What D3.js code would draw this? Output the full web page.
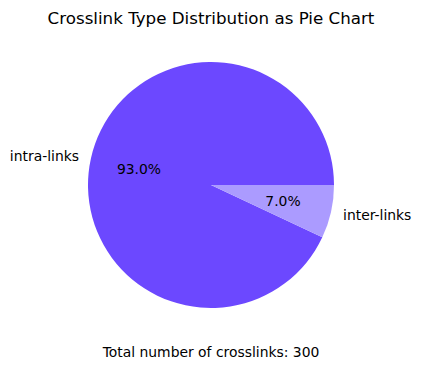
<!DOCTYPE html>
<html><head><meta charset="utf-8">
<script src="https://cdn.jsdelivr.net/npm/d3@7"></script>
<style>body{margin:0;background:#fff}svg{display:block}text{font-family:"DejaVu Sans",sans-serif;fill:#000}</style>
</head><body>
<script>
const categories = ["intra-links", "inter-links"];
const values = [279, 21];
const colors = ["#6c48ff", "#ab9bff"];
const title = "Crosslink Type Distribution as Pie Chart";
const footer = "Total number of crosslinks: 300";

const W = 421, H = 369, cx = 211, cy = 185, R = 123;
const svg = d3.select("body").append("svg").attr("width", W).attr("height", H);
const total = d3.sum(values);
// matplotlib: start at 3 o'clock, counterclockwise
const toRad = d => d; 
const pie = d3.pie().sort(null).value(d => d)
  .startAngle(Math.PI / 2).endAngle(Math.PI / 2 - 2 * Math.PI);
const arcs = pie(values);
const arc = d3.arc().innerRadius(0).outerRadius(R);
const color = d3.scaleOrdinal().domain(categories).range(colors);
const g = svg.append("g").attr("transform", `translate(${cx},${cy})`);
g.selectAll("path").data(arcs).join("path")
  .attr("d", arc).attr("fill", (d, i) => color(categories[i]));
function pos(d, f) {
  const a = (d.startAngle + d.endAngle) / 2; // d3 angle: 0 at top, clockwise
  return [Math.sin(a) * R * f, -Math.cos(a) * R * f];
}
g.selectAll("text.lab").data(arcs).join("text").attr("class", "lab")
  .attr("x", d => pos(d, 1.1)[0]).attr("y", d => pos(d, 1.1)[1])
  .attr("text-anchor", d => pos(d, 1.1)[0] < 0 ? "end" : "start")
  .attr("dominant-baseline", "central").attr("font-size", "13.9px")
  .text((d, i) => categories[i]);
g.selectAll("text.pct").data(arcs).join("text").attr("class", "pct")
  .attr("x", d => pos(d, 0.6)[0]).attr("y", d => pos(d, 0.6)[1])
  .attr("text-anchor", "middle")
  .attr("dominant-baseline", "central").attr("font-size", "13.9px")
  .text(d => (d.value / total * 100).toFixed(1) + "%");
svg.append("text").attr("x", cx).attr("y", 18).attr("text-anchor", "middle")
  .attr("dominant-baseline", "central").attr("font-size", "16.7px").text(title);
svg.append("text").attr("x", cx).attr("y", 352).attr("text-anchor", "middle")
  .attr("dominant-baseline", "central").attr("font-size", "13.9px").text(footer);
</script>
</body></html>
